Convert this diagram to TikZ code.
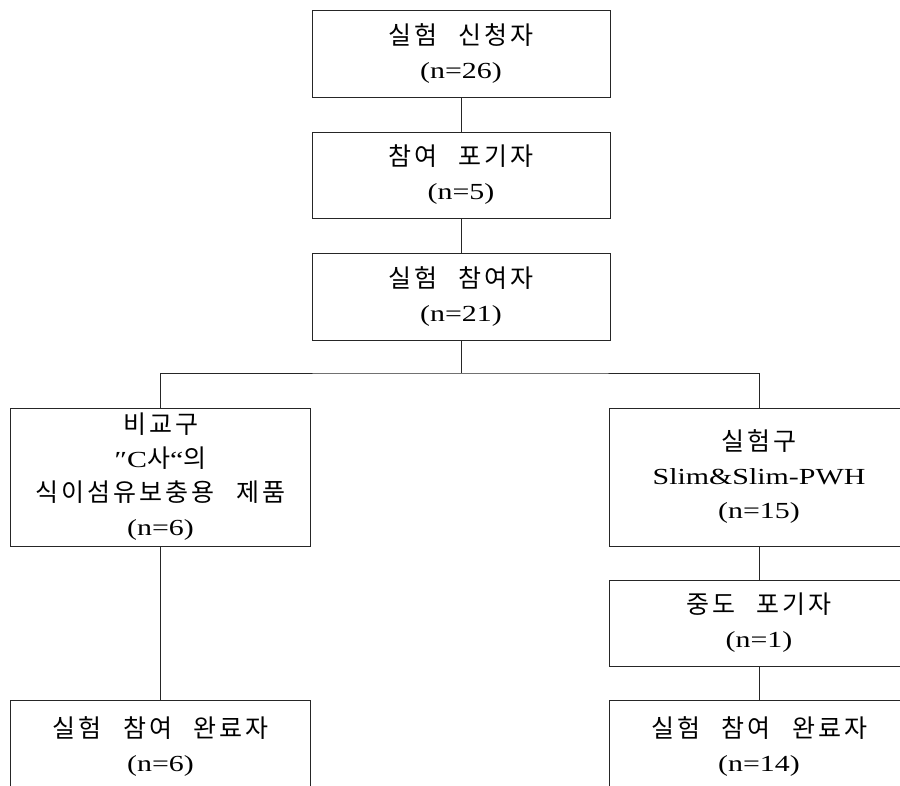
\documentclass[tikz,border=0pt]{standalone}
\usepackage{fontspec}
\setmainfont{Liberation Serif}[FakeStretch=1.3]
\newfontfamily\krfont[WordSpace=2.5,LetterSpace=12]{Noto Sans CJK KR}
\newcommand\hk[1]{{\krfont\fontsize{25}{34}\selectfont #1}}
\begin{document}
\begin{tikzpicture}[x=1pt,y=-1pt,
  box/.style={draw=black!85, line width=0.9pt, minimum width=298pt, align=center,
    inner sep=0pt, font=\fontsize{23}{34}\selectfont},
  conn/.style={draw=black!85, line width=0.9pt}]
\clip (0,0) rectangle (900,785);
\fill[white] (0,0) rectangle (900,785);
\node[box, minimum height=87pt] (apply) at (461,53.5) {\hk{실험 신청자}\\(n=26)};
\node[box, minimum height=86pt] (drop) at (461,175) {\hk{참여 포기자}\\(n=5)};
\node[box, minimum height=87pt] (part) at (461,296.5) {\hk{실험 참여자}\\(n=21)};
\node[box, minimum width=300pt, minimum height=138pt] (ctrl) at (160.5,477)
  {\hk{비교구}\\″C\hk{사}“\hk{의}\\\hk{식이섬유보충용 제품}\\(n=6)};
\node[box, minimum width=300pt, minimum height=138pt] (exp) at (759,477)
  {\hk{실험구}\\Slim\&Slim-PWH\\(n=15)};
\node[box, minimum width=300pt, minimum height=86pt] (quit) at (759,623)
  {\hk{중도 포기자}\\(n=1)};
\node[box, minimum width=300pt, minimum height=92pt] (ctrlend) at (160.5,746)
  {\hk{실험 참여 완료자}\\(n=6)};
\node[box, minimum width=300pt, minimum height=92pt] (expend) at (759,746)
  {\hk{실험 참여 완료자}\\(n=14)};
\coordinate (split) at (461,373);
\draw[conn] (apply) -- (drop);
\draw[conn] (drop) -- (part);
\draw[conn] (part) -- (split);
\draw[conn] (ctrl.north) |- (split) -| (exp.north);
\draw[conn] (ctrl) -- (ctrlend);
\draw[conn] (exp) -- (quit);
\draw[conn] (quit) -- (expend);
\end{tikzpicture}
\end{document}
